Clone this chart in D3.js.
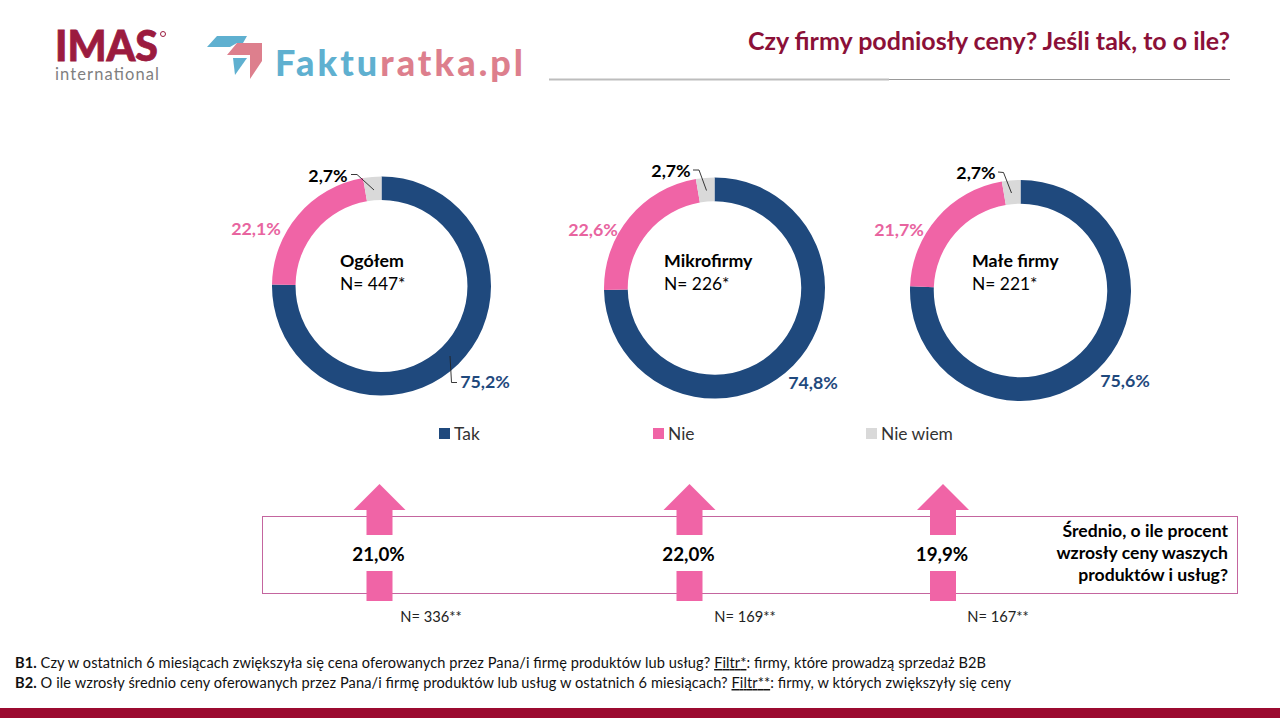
<!DOCTYPE html>
<html>
<head>
<meta charset="utf-8">
<script src="https://cdn.jsdelivr.net/npm/d3@7"></script>
<style>
html, body { margin: 0; padding: 0; background: #fff; }
svg { display: block; }
text { font-family: Lato, "Open Sans", sans-serif; }
</style>
</head>
<body>
<script>
// data
var answers = ["Tak", "Nie", "Nie wiem"];
var groups = ["Ogółem", "Mikrofirmy", "Małe firmy"];
var sampleLabels = ["N= 447*", "N= 226*", "N= 221*"];
var takValues = [75.2, 74.8, 75.6];
var nieValues = [22.1, 22.6, 21.7];
var nieWiemValues = [2.7, 2.7, 2.7];
var avgRise = [21.0, 22.0, 19.9];
var avgSamples = ["N= 336**", "N= 169**", "N= 167**"];

var colors = ["#1f497d", "#f064a6", "#d9d9d9"];
var labelColors = ["#1f497d", "#e8649f", "#000000"];
var maroon = "#9b0a30";

var width = 1280, height = 718;
var svg = d3.select("body").append("svg").attr("width", width).attr("height", height);

function pct(v) { return v.toFixed(1).replace(".", ",") + "%"; }

var color = d3.scaleOrdinal().domain(answers).range(colors);
var labelColor = d3.scaleOrdinal().domain(answers).range(labelColors);

// layout of the three donuts
var centers = [[381.5, 286], [714.5, 288], [1020.5, 290.5]];
var outerR = [109.5, 110.5, 110.5];
var innerRatio = 0.785;
var labelPos = [
  [[485, 388], [256, 235], [328, 182]],
  [[813, 389], [593, 236], [671, 177]],
  [[1125, 387], [899, 236], [976, 179]]
];
var leaders = [
  [[351, 174.5], [357, 174.5], [374, 190]],
  [[693, 170], [699, 170], [706.5, 190.5]],
  [[998, 172], [1003.5, 172.5], [1011.5, 193]]
];
var takLeader = [[450, 356], [451.5, 382.5], [457, 382.5]];

var pie = d3.pie().sort(null);

groups.forEach(function(g, i) {
  var vals = [takValues[i], nieValues[i], nieWiemValues[i]];
  var arc = d3.arc().innerRadius(outerR[i] * innerRatio).outerRadius(outerR[i]);
  var c = svg.append("g").attr("transform", "translate(" + centers[i] + ")");
  c.selectAll("path").data(pie(vals)).enter().append("path")
    .attr("d", arc)
    .attr("fill", function(d, j) { return color(answers[j]); });

  svg.selectAll(null).data(vals).enter().append("text")
    .attr("x", function(d, j) { return labelPos[i][j][0]; })
    .attr("y", function(d, j) { return labelPos[i][j][1]; })
    .attr("text-anchor", "middle")
    .attr("font-size", 17.8)
    .attr("font-weight", 700)
    .attr("fill", function(d, j) { return labelColor(answers[j]); })
    .text(pct);

  svg.append("path").attr("d", d3.line()(leaders[i]))
    .attr("fill", "none").attr("stroke", "#222").attr("stroke-width", 0.9);

  var tx = [340, 664, 972][i];
  svg.append("text").attr("x", tx).attr("y", 267)
    .attr("font-size", 17.8).attr("font-weight", 700).text(g);
  svg.append("text").attr("x", tx).attr("y", 290)
    .attr("font-size", 17.4).text(sampleLabels[i]);
});

svg.append("path").attr("d", d3.line()(takLeader))
  .attr("fill", "none").attr("stroke", "#222").attr("stroke-width", 0.9);

// legend
var legendX = [439, 653, 866];
var legend = svg.selectAll("g.legend").data(answers).enter().append("g").attr("class", "legend")
  .attr("transform", function(d, i) { return "translate(" + legendX[i] + ",428)"; });
legend.append("rect").attr("width", 11).attr("height", 11).attr("fill", function(d) { return color(d); });
legend.append("text").attr("x", 15).attr("y", 11.5).attr("font-size", 17.4).attr("fill", "#333").text(function(d) { return d; });

// box with the average rises
svg.append("rect").attr("x", 262.5).attr("y", 516.5).attr("width", 975).attr("height", 77)
  .attr("fill", "none").attr("stroke", "#c4659f").attr("stroke-width", 1);

var arrowX = [379.5, 689.5, 943];
var arrow = [[-26, 510], [0, 484], [26, 510], [13, 510], [13, 535], [-13, 535], [-13, 510]];
avgRise.forEach(function(v, i) {
  var x = arrowX[i];
  svg.append("polygon").attr("fill", "#f064a6")
    .attr("points", arrow.map(function(p) { return [x + p[0], p[1]].join(","); }).join(" "));
  svg.append("rect").attr("x", x - 13).attr("y", 571).attr("width", 26).attr("height", 30).attr("fill", "#f064a6");
  svg.append("text").attr("x", x - 1).attr("y", 560.5).attr("text-anchor", "middle")
    .attr("font-size", 18.8).attr("font-weight", 700).attr("fill", "#000").text(pct(v));
  svg.append("text").attr("x", [431, 745, 998][i]).attr("y", 621.5).attr("text-anchor", "middle")
    .attr("font-size", 14.7).attr("fill", "#222").text(avgSamples[i]);
});

var boxLines = ["Średnio, o ile procent", "wzrosły ceny waszych", "produktów i usług?"];
svg.selectAll("text.boxq").data(boxLines).enter().append("text").attr("class", "boxq")
  .attr("x", 1228).attr("y", function(d, i) { return 537 + i * 22; })
  .attr("text-anchor", "end").attr("font-size", 17.6).attr("font-weight", 700).text(function(d) { return d; });

// header
svg.append("text").attr("x", 1230).attr("y", 50).attr("text-anchor", "end")
  .attr("font-size", 25).attr("font-weight", 700).attr("fill", "#8b1038")
  .text("Czy firmy podniosły ceny? Jeśli tak, to o ile?");
svg.append("line").attr("x1", 549).attr("x2", 889).attr("y1", 79.5).attr("y2", 79.5)
  .attr("stroke", "#bdbdbd").attr("stroke-width", 1.8);
svg.append("line").attr("x1", 889).attr("x2", 1230).attr("y1", 79.5).attr("y2", 79.5)
  .attr("stroke", "#999").attr("stroke-width", 1);

// logos
svg.append("text").attr("x", 55).attr("y", 61).attr("font-size", 42).attr("font-weight", 900)
  .attr("textLength", 103).attr("lengthAdjust", "spacingAndGlyphs")
  .attr("fill", "#9b1b3f").attr("stroke", "#9b1b3f").attr("stroke-width", 0.8).text("IMAS");
svg.append("text").attr("x", 55).attr("y", 79.5).attr("font-size", 16.5).attr("fill", "#7f7f7f")
  .attr("textLength", 104).text("international");
svg.append("circle").attr("cx", 163).attr("cy", 34).attr("r", 2.5).attr("fill", "none").attr("stroke", "#9b1b3f");

svg.append("polygon").attr("points", "207,47 217,36 247,36 243,43 237,43 230,47").attr("fill", "#5fb0d0");
svg.append("polygon").attr("points", "233,58 247,58 235,75").attr("fill", "#5fb0d0");
svg.append("polygon").attr("points", "227,55 237,43 262,43 262,61 250,79 250,55").attr("fill", "#dd7f8d");
var logo = svg.append("text").attr("x", 275).attr("y", 75.5).attr("font-size", 36).attr("font-weight", 900)
  .attr("textLength", 248);
logo.append("tspan").attr("fill", "#5fb0d0").text("Faktu");
logo.append("tspan").attr("fill", "#dd7f8d").text("ratka.pl");

// footnotes
var note1 = svg.append("text").attr("x", 15).attr("y", 668).attr("font-size", 14.6).attr("fill", "#111")
  .attr("textLength", 971);
note1.append("tspan").attr("font-weight", 700).text("B1.");
note1.append("tspan").text(" Czy w ostatnich 6 miesiącach zwiększyła się cena oferowanych  przez Pana/i firmę  produktów  lub usług? ");
note1.append("tspan").attr("text-decoration", "underline").text("Filtr*");
note1.append("tspan").text(": firmy, które prowadzą sprzedaż B2B");
var note2 = svg.append("text").attr("x", 15).attr("y", 688).attr("font-size", 14.6).attr("fill", "#111")
  .attr("textLength", 996);
note2.append("tspan").attr("font-weight", 700).text("B2.");
note2.append("tspan").text(" O ile wzrosły średnio ceny oferowanych przez Pana/i firmę  produktów  lub usług w ostatnich 6 miesiącach? ");
note2.append("tspan").attr("text-decoration", "underline").text("Filtr**");
note2.append("tspan").text(": firmy, w których  zwiększyły się ceny");

svg.append("rect").attr("x", 0).attr("y", 708).attr("width", width).attr("height", 10).attr("fill", maroon);
</script>
</body>
</html>
